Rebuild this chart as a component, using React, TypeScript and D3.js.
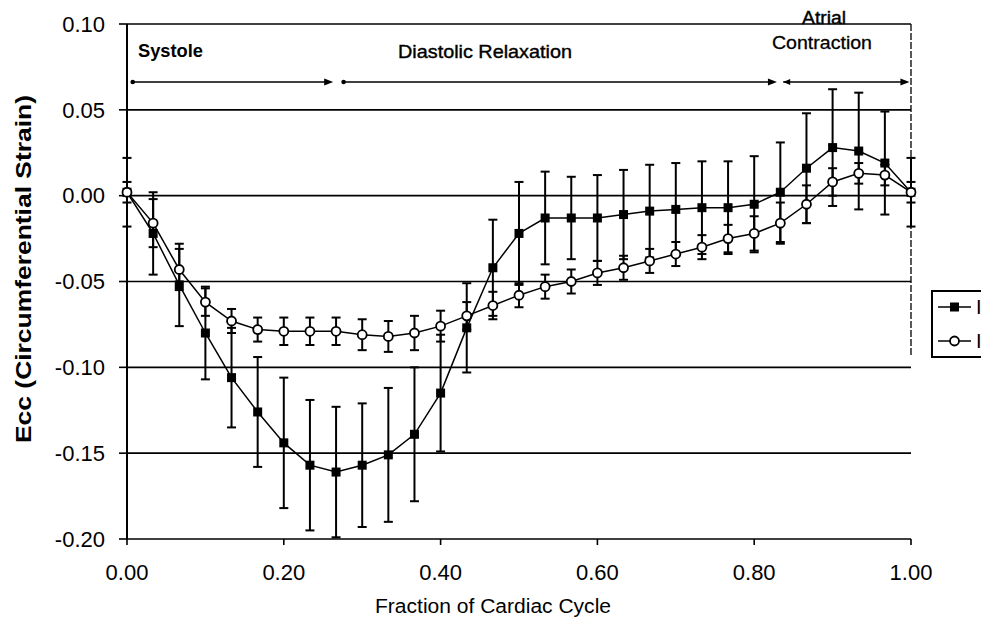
import React from "react";
import * as d3 from "d3";

const fractions: number[] = d3.range(31).map((i) => i / 30);

const seriesFilled: number[] = [0.002, -0.022, -0.052, -0.080, -0.106, -0.126, -0.144, -0.157, -0.161, -0.157, -0.151, -0.139, -0.115, -0.077, -0.042, -0.022, -0.013, -0.013, -0.013, -0.011, -0.009, -0.008, -0.007, -0.007, -0.005, 0.002, 0.016, 0.028, 0.026, 0.019, 0.002];
const errFilled: number[] = [0.020, 0.024, 0.024, 0.027, 0.029, 0.032, 0.038, 0.038, 0.038, 0.036, 0.039, 0.039, 0.034, 0.026, 0.028, 0.030, 0.027, 0.024, 0.025, 0.026, 0.027, 0.027, 0.027, 0.027, 0.028, 0.029, 0.032, 0.034, 0.034, 0.030, 0.020];

const seriesOpen: number[] = [0.002, -0.016, -0.043, -0.062, -0.073, -0.078, -0.079, -0.079, -0.079, -0.081, -0.082, -0.080, -0.076, -0.070, -0.064, -0.058, -0.053, -0.050, -0.045, -0.042, -0.038, -0.034, -0.030, -0.025, -0.022, -0.016, -0.005, 0.008, 0.013, 0.012, 0.002];
const errOpen: number[] = [0.006, 0.014, 0.012, 0.008, 0.007, 0.007, 0.008, 0.008, 0.008, 0.009, 0.009, 0.010, 0.009, 0.008, 0.008, 0.007, 0.007, 0.007, 0.007, 0.007, 0.007, 0.007, 0.007, 0.008, 0.010, 0.012, 0.011, 0.008, 0.006, 0.006, 0.006];

const yTicks: number[] = [0.10, 0.05, 0.00, -0.05, -0.10, -0.15, -0.20];
const xTicks: number[] = [0, 0.2, 0.4, 0.6, 0.8, 1.0];

const phaseStart: number[] = [0.006, 0.275, 0.837];
const phaseEnd: number[] = [0.263, 0.829, 0.998];
const phaseStartMark: string[] = ["dot", "dot", "arrow"];

const FONT = "'Liberation Sans', Arial, Helvetica, sans-serif";
const fmt = d3.formatLocale({ decimal: ".", thousands: ",", grouping: [3], currency: ["", ""], minus: "-" }).format(".2f");

export default function App() {
  const x = d3.scaleLinear().domain([0, 1]).range([127, 911]);
  const y = d3.scaleLinear().domain([-0.2, 0.1]).range([539, 24]);
  const yMin = -0.2;

  const line = d3
    .line<number>()
    .x((_, i) => x(fractions[i]))
    .y((d) => y(d));

  const errBars = (vals: number[], errs: number[], key: string) =>
    vals.map((v, i) => {
      const cx = x(fractions[i]);
      const hi = v + errs[i];
      const loRaw = v - errs[i];
      const lo = Math.max(loRaw, yMin);
      return (
        <g key={key + i}>
          <line x1={cx} x2={cx} y1={y(hi)} y2={y(lo)} stroke="#000" strokeWidth={2} />
          <line x1={cx - 4.5} x2={cx + 4.5} y1={y(hi)} y2={y(hi)} stroke="#000" strokeWidth={2} />
          {loRaw >= yMin && (
            <line x1={cx - 4.5} x2={cx + 4.5} y1={y(lo)} y2={y(lo)} stroke="#000" strokeWidth={2} />
          )}
        </g>
      );
    });

  const arrowY = 82;

  return (
    <svg
      width={981}
      height={626}
      style={{ position: "absolute", left: 0, top: 0, background: "#fff" }}
      fontFamily={FONT}
    >
      <rect x={0} y={0} width={981} height={626} fill="#fff" />
      {yTicks.map((t) => (
        <line key={"g" + t} x1={x(0)} x2={x(1)} y1={y(t)} y2={y(t)} stroke="#000" strokeWidth={1.6} />
      ))}
      <line x1={x(0)} x2={x(0)} y1={y(0.1)} y2={y(-0.2)} stroke="#000" strokeWidth={2} />
      <line x1={x(1)} x2={x(1)} y1={y(0.1)} y2={y(-0.093)} stroke="#000" strokeWidth={1.3} strokeDasharray="7,2" />
      {yTicks.map((t) => (
        <g key={"yt" + t}>
          <line x1={x(0) - 8} x2={x(0)} y1={y(t)} y2={y(t)} stroke="#000" strokeWidth={1.6} />
          <text x={105} y={y(t)} dy="0.35em" textAnchor="end" fontSize={22} fill="#000">
            {fmt(t)}
          </text>
        </g>
      ))}
      {xTicks.map((t) => (
        <g key={"xt" + t}>
          <line x1={x(t)} x2={x(t)} y1={y(-0.2)} y2={y(-0.2) + 6} stroke="#000" strokeWidth={1.6} />
          <text x={x(t)} y={580} textAnchor="middle" fontSize={22} fill="#000">
            {fmt(t)}
          </text>
        </g>
      ))}
      <text x={493} y={613} textAnchor="middle" fontSize={20} textLength={236} lengthAdjust="spacingAndGlyphs" fill="#000">
        Fraction of Cardiac Cycle
      </text>
      <text
        transform="translate(31,269) rotate(-90)"
        textAnchor="middle"
        fontSize={22}
        fontWeight="bold"
        textLength={348}
        lengthAdjust="spacingAndGlyphs"
        fill="#000"
      >
        Ecc (Circumferential Strain)
      </text>

      {phaseStart.map((s, i) => {
        const x1 = x(s);
        const x2 = x(phaseEnd[i]);
        return (
          <g key={"ph" + i}>
            <line x1={x1} x2={x2 - 6} y1={arrowY} y2={arrowY} stroke="#000" strokeWidth={1.5} />
            <path d={`M${x2},${arrowY} L${x2 - 9},${arrowY - 3.5} L${x2 - 9},${arrowY + 3.5} Z`} fill="#000" />
            {phaseStartMark[i] === "dot" ? (
              <circle cx={x1 + 1} cy={arrowY} r={2.3} fill="#000" />
            ) : (
              <path d={`M${x1},${arrowY} L${x1 + 7},${arrowY - 3} L${x1 + 7},${arrowY + 3} Z`} fill="#000" />
            )}
          </g>
        );
      })}
      <text x={138} y={57} fontSize={18} fontWeight="bold" textLength={65} lengthAdjust="spacingAndGlyphs" fill="#000">
        Systole
      </text>
      <text x={398} y={58} fontSize={19} stroke="#000" strokeWidth={0.4} textLength={174} lengthAdjust="spacingAndGlyphs" fill="#000">
        Diastolic Relaxation
      </text>
      <text x={824} y={24} textAnchor="middle" fontSize={18} stroke="#000" strokeWidth={0.4} textLength={44} lengthAdjust="spacingAndGlyphs" fill="#000">
        Atrial
      </text>
      <text x={822} y={49} textAnchor="middle" fontSize={19} stroke="#000" strokeWidth={0.3} textLength={100} lengthAdjust="spacingAndGlyphs" fill="#000">
        Contraction
      </text>

      <path d={line(seriesFilled) || ""} fill="none" stroke="#000" strokeWidth={1.5} />
      <path d={line(seriesOpen) || ""} fill="none" stroke="#000" strokeWidth={1.5} />
      {errBars(seriesFilled, errFilled, "ef")}
      {errBars(seriesOpen, errOpen, "eo")}
      {seriesFilled.map((v, i) => (
        <rect key={"sq" + i} x={x(fractions[i]) - 4.5} y={y(v) - 4.5} width={9} height={9} fill="#000" />
      ))}
      {seriesOpen.map((v, i) => (
        <circle key={"ci" + i} cx={x(fractions[i])} cy={y(v)} r={4.5} fill="#fff" stroke="#000" strokeWidth={1.8} />
      ))}

      <path d="M990,291 L932,291 L932,357 L990,357" fill="#fff" stroke="#000" strokeWidth={2} />
      <line x1={938} x2={971} y1={307} y2={307} stroke="#000" strokeWidth={1.6} />
      <rect x={950} y={302.5} width={9} height={9} fill="#000" />
      <line x1={938} x2={971} y1={341} y2={341} stroke="#000" strokeWidth={1.6} />
      <circle cx={954.5} cy={341} r={4.5} fill="#fff" stroke="#000" strokeWidth={1.8} />
      <text x={976} y={314} fontSize={20} fill="#000">I</text>
      <text x={976} y={348} fontSize={20} fill="#000">I</text>
    </svg>
  );
}
